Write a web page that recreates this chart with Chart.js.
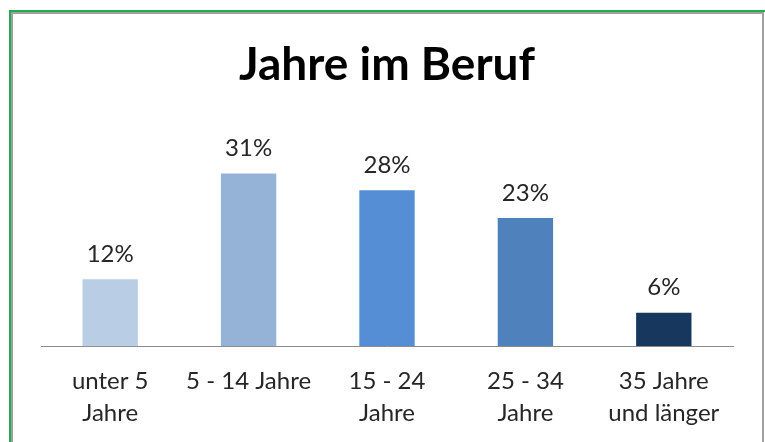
<!DOCTYPE html>
<html lang="de">
<head>
  <meta charset="UTF-8" />
  <title>Jahre im Beruf</title>
  <script src="https://cdn.jsdelivr.net/npm/chart.js"></script>
  <style>
    body {
      margin: 0;
      background: #ffffff;
      overflow: hidden;
    }
    .frame-green {
      position: absolute;
      left: 9px;
      top: 10px;
      width: 760px;
      height: 440px;
      border-top: 2px solid #22aa55;
      border-left: 2px solid #22aa55;
    }
    .frame-gray {
      position: absolute;
      left: 11px;
      top: 12px;
      width: 749px;
      height: 440px;
      border-top: 2px solid #a0a0a0;
      border-left: 2px solid #a0a0a0;
      border-right: 2px solid #a0a0a0;
    }
    .wrap {
      position: absolute;
      left: 0;
      top: 0;
      width: 765px;
      height: 442px;
    }
  </style>
</head>
<body>
  <div class="frame-green"></div>
  <div class="frame-gray"></div>
  <div class="wrap"><canvas id="chart"></canvas></div>

  <script>
    const categories = [
      ['unter 5', 'Jahre'],
      '5 - 14 Jahre',
      ['15 - 24', 'Jahre'],
      ['25 - 34', 'Jahre'],
      ['35 Jahre', 'und länger']
    ];
    const shares = [12, 31, 28, 23, 6];
    const barColors = ['#b9cde5', '#95b3d7', '#558ed5', '#4f81bd', '#17375e'];

    // prints "NN%" above every bar
    const valueLabels = {
      id: 'valueLabels',
      afterDatasetsDraw(chart) {
        const ctx = chart.ctx;
        const meta = chart.getDatasetMeta(0);
        ctx.save();
        ctx.font = '24px Lato, sans-serif';
        ctx.fillStyle = '#262626';
        ctx.textAlign = 'center';
        ctx.textBaseline = 'middle';
        meta.data.forEach((bar, i) => {
          ctx.fillText(shares[i] + '%', bar.x, bar.y - 25);
        });
        ctx.restore();
      }
    };

    new Chart(document.getElementById('chart'), {
      type: 'bar',
      data: {
        labels: categories,
        datasets: [{
          data: shares,
          backgroundColor: barColors,
          borderWidth: 0,
          categoryPercentage: 1,
          barPercentage: 0.4
        }]
      },
      options: {
        responsive: true,
        maintainAspectRatio: false,
        animation: false,
        layout: {
          padding: { top: 14, left: 41, right: 32, bottom: -6 }
        },
        scales: {
          x: {
            grid: { display: false, drawTicks: false },
            border: { display: true, color: '#8c8c8c', width: 1 },
            ticks: {
              color: '#262626',
              padding: 19,
              maxRotation: 0,
              autoSkip: false,
              font: { family: 'Lato, sans-serif', size: 24, lineHeight: 1.33 }
            }
          },
          y: {
            display: false,
            min: 0,
            max: 35
          }
        },
        plugins: {
          legend: { display: false },
          tooltip: { enabled: false },
          title: {
            display: true,
            text: 'Jahre im Beruf',
            color: '#000000',
            padding: { top: 24, bottom: 58 },
            font: { family: 'Lato, sans-serif', size: 46, weight: 'bold', lineHeight: 1.2 }
          }
        }
      },
      plugins: [valueLabels]
    });
  </script>
</body>
</html>
